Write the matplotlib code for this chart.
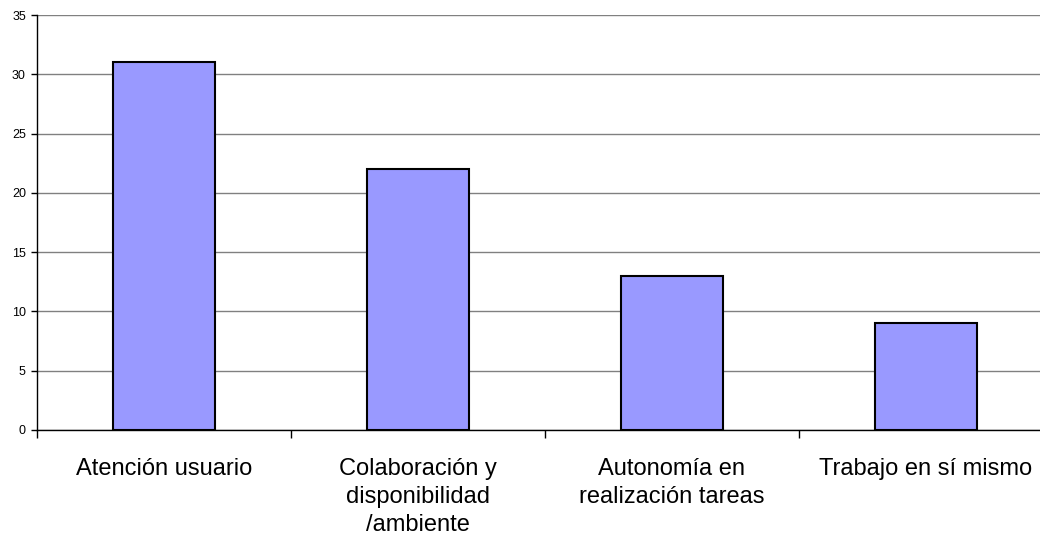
import numpy as np
import matplotlib.pyplot as plt

categorias = ['Atención usuario', 'Colaboración y\ndisponibilidad\n/ambiente',
              'Autonomía en\nrealización tareas', 'Trabajo en sí mismo']
valores = [31, 22, 13, 9]
yticks = [0, 5, 10, 15, 20, 25, 30, 35]

plt.rcParams['font.family'] = ['Liberation Sans', 'DejaVu Sans']

fig = plt.figure(figsize=(10.40, 5.37), dpi=100)
# the plot area runs past the right edge of the figure
ax = fig.add_axes([37 / 1040, 1 - 430 / 537, 1016 / 1040, 415 / 537])

x = np.arange(len(categorias))
ax.bar(x, valores, width=0.4, color='#9999ff', edgecolor='black', linewidth=1.5, zorder=3)

ax.set_xlim(-0.5, len(categorias) - 0.5)
ax.set_ylim(0, 35)
ax.set_yticks(yticks)
ax.set_yticklabels([str(v) for v in yticks], fontsize=9)
ax.yaxis.grid(True, color='#808080', linewidth=1, zorder=0)

ax.set_xticks(x)
ax.set_xticklabels(categorias, fontsize=17, linespacing=1.35)
ax.set_xticks(np.arange(len(categorias) + 1) - 0.5, minor=True)
ax.tick_params(axis='x', which='major', length=0, pad=20)
ax.tick_params(axis='x', which='minor', length=6, width=1, direction='out')
ax.tick_params(axis='y', length=4, width=1, pad=4)

for side in ['top', 'right']:
    ax.spines[side].set_visible(False)
ax.spines['left'].set_linewidth(1)
ax.spines['bottom'].set_linewidth(1)

fig.savefig('out.png', dpi=100)
